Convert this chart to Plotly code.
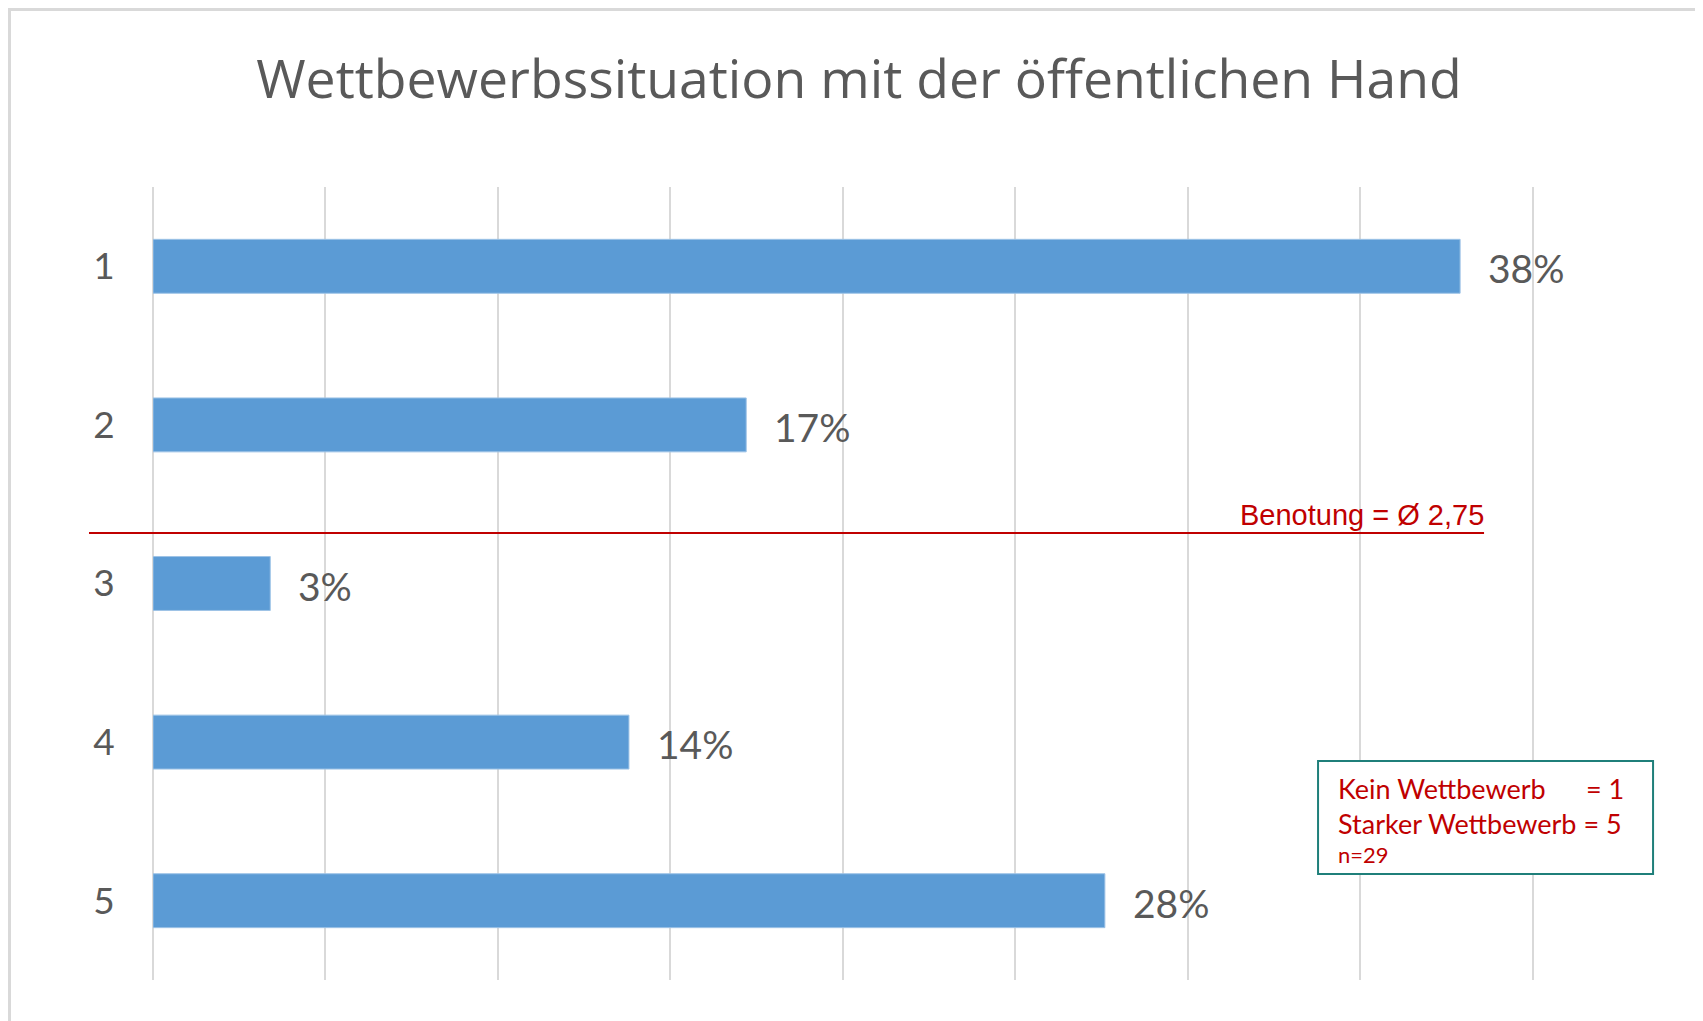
import plotly.graph_objects as go

# Daten (Anteile in %, n=29)
grades = [1, 2, 3, 4, 5]
shares = [37.9, 17.2, 3.4, 13.8, 27.6]
share_labels = ["38%", "17%", "3%", "14%", "28%"]
avg_label = "Benotung = Ø 2,75"
title = "Wettbewerbssituation mit der öffentlichen Hand"

OFF = 8  # Seitenrand des Browsers
W, H = 1703 - OFF, 1021 - OFF
X_MAX = 40.1
SCALE = (1532.5 - 153) / 40          # Pixel pro Prozentpunkt
L, T, B = 153 - OFF, 187 - OFF, 980 - OFF
R = L + X_MAX * SCALE


def px(x):
    return (x - OFF - L) / (R - L)


def py(y):
    return (B - (y - OFF)) / (B - T)


fig = go.Figure(
    go.Bar(
        x=shares,
        y=grades,
        orientation="h",
        width=0.34,
        marker=dict(color="#5B9BD5", line=dict(color="#9DC3E6", width=1)),
        hoverinfo="skip",
    )
)

# Datenbeschriftungen
for v, g, lab in zip(shares, grades, share_labels):
    fig.add_annotation(
        x=v, y=g, text=lab, showarrow=False, xanchor="left", xshift=26, yshift=-2,
        font=dict(family="Lato", size=39, color="#595959"),
    )

# Durchschnittslinie + Text
fig.add_shape(type="line", xref="paper", yref="paper",
              x0=px(89), x1=px(1484), y0=py(533), y1=py(533),
              line=dict(color="#C00000", width=2))
fig.add_annotation(xref="paper", yref="paper", x=px(1486), y=py(533), text=avg_label,
                   showarrow=False, xanchor="right", yanchor="bottom",
                   font=dict(family="Liberation Sans", size=29, color="#C00000"))

# Legendenkasten
fig.add_shape(type="rect", xref="paper", yref="paper",
              x0=px(1318), x1=px(1653), y0=py(761), y1=py(874),
              line=dict(color="#1F7F7A", width=2), fillcolor="white")
box_font = dict(family="Lato", size=27, color="#C00000")
fig.add_annotation(xref="paper", yref="paper", x=px(1336), y=py(788), text="Kein Wettbewerb",
                   showarrow=False, xanchor="left", yanchor="middle", font=box_font)
fig.add_annotation(xref="paper", yref="paper", x=px(1584), y=py(788), text="= 1",
                   showarrow=False, xanchor="left", yanchor="middle", font=box_font)
fig.add_annotation(xref="paper", yref="paper", x=px(1336), y=py(823), text="Starker Wettbewerb = 5",
                   showarrow=False, xanchor="left", yanchor="middle", font=box_font)
fig.add_annotation(xref="paper", yref="paper", x=px(1336), y=py(854), text="n=29",
                   showarrow=False, xanchor="left", yanchor="middle",
                   font=dict(family="Lato", size=22, color="#C00000"))

# Rahmen
fig.add_shape(type="rect", xref="paper", yref="paper", layer="below",
              x0=px(OFF + 1.5), x1=px(1701), y0=py(OFF + 1.5), y1=py(1040),
              line=dict(color="#D9D9D9", width=3))

fig.update_layout(
    width=W,
    height=H,
    margin=dict(l=L, r=W - R, t=T, b=H - B, pad=0),
    paper_bgcolor="white",
    plot_bgcolor="white",
    showlegend=False,
    title=dict(
        text=title, xref="container", yref="container",
        x=(859 - OFF) / W, y=1 - (79 - OFF) / H,
        xanchor="center", yanchor="middle",
        font=dict(family="Open Sans", size=53.5, color="#595959"),
    ),
    xaxis=dict(
        range=[0, X_MAX], tick0=0, dtick=5, showticklabels=False, showgrid=True,
        gridcolor="#D9D9D9", gridwidth=2, zeroline=True, zerolinecolor="#D9D9D9",
        zerolinewidth=2, showline=False, fixedrange=True,
    ),
    yaxis=dict(
        range=[5.5, 0.5], tickvals=grades, ticktext=[str(g) for g in grades],
        showgrid=False, zeroline=False, showline=False,
        ticks="outside", ticklen=30, tickcolor="rgba(0,0,0,0)",
        tickfont=dict(family="Lato", size=37, color="#595959"),
    ),
)

fig.write_html("out.html")
